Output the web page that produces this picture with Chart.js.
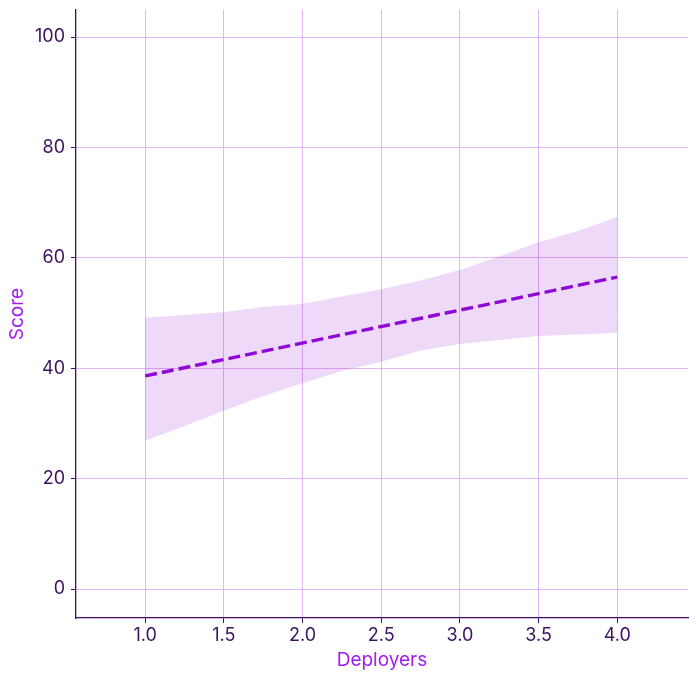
<!DOCTYPE html>
<html>
<head>
<meta charset="utf-8">
<script src="https://cdn.jsdelivr.net/npm/chart.js@4"></script>
<style>
  html, body { margin: 0; padding: 0; background: #ffffff; }
  #wrap { width: 697px; height: 679px; }
</style>
</head>
<body>
<div id="wrap"><canvas id="c" width="697" height="679"></canvas></div>
<script>
// Data
const bandX = [1.0, 1.25, 1.5, 1.75, 2.0, 2.25, 2.5, 2.75, 3.0, 3.25, 3.5, 3.75, 4.0];
const bandUpper = [49.15, 49.64, 50.18, 51.09, 51.68, 52.99, 54.29, 55.89, 57.79, 60.24, 62.81, 64.86, 67.39];
const bandLower = [26.87, 29.53, 32.30, 34.96, 37.26, 39.49, 41.18, 43.21, 44.38, 45.11, 45.83, 46.10, 46.43];
const lineX = [1.0, 4.0];
const lineY = [38.6, 56.5];
const xTicks = [1.0, 1.5, 2.0, 2.5, 3.0, 3.5, 4.0];
const xTickLabels = ["1.0", "1.5", "2.0", "2.5", "3.0", "3.5", "4.0"];
const yTicks = [0, 20, 40, 60, 80, 100];
const yTickLabels = ["0", "20", "40", "60", "80", "100"];

const toPts = (xs, ys) => xs.map((x, i) => ({ x: x, y: ys[i] }));

const gridColor = '#e3b5f5';
const axisColor = '#3d0a66';
const tickTextColor = '#3c1361';
const titleColor = '#a21cf0';
const fontFam = 'Inter, "DejaVu Sans", sans-serif';

new Chart(document.getElementById('c'), {
  type: 'line',
  data: {
    datasets: [
      {
        data: toPts(bandX, bandUpper),
        borderWidth: 0,
        borderColor: 'rgba(0,0,0,0)',
        pointRadius: 0,
        fill: '+1',
        backgroundColor: 'rgba(148,0,211,0.15)',
        tension: 0
      },
      {
        data: toPts(bandX, bandLower),
        borderWidth: 0,
        borderColor: 'rgba(0,0,0,0)',
        pointRadius: 0,
        fill: false,
        tension: 0
      },
      {
        data: toPts(lineX, lineY),
        borderColor: '#8f0bd8',
        borderWidth: 3.4,
        borderDash: [12, 5],
        pointRadius: 0,
        fill: false
      }
    ]
  },
  options: {
    responsive: false,
    animation: false,
    devicePixelRatio: 1,
    layout: { padding: { left: 0, right: 9, top: 10, bottom: 0 } },
    plugins: {
      legend: { display: false },
      tooltip: { enabled: false }
    },
    scales: {
      x: {
        type: 'linear',
        min: 0.56,
        max: 4.45,
        afterBuildTicks: (s) => { s.ticks = xTicks.map(v => ({ value: v })); },
        afterFit: (s) => { s.height = 61; s.paddingLeft = 0; s.paddingRight = 0; },
        ticks: {
          color: tickTextColor,
          font: { family: fontFam, size: 18 },
          padding: 2,
          maxRotation: 0,
          callback: (v) => { const i = xTicks.indexOf(v); return i >= 0 ? xTickLabels[i] : ''; }
        },
        grid: { color: gridColor, lineWidth: 1, tickColor: axisColor, tickLength: 5 },
        border: { display: true, color: axisColor, width: 1.3 },
        title: {
          display: true,
          text: 'Deployers',
          color: titleColor,
          font: { family: fontFam, size: 19 },
          padding: { top: 4, bottom: 7 }
        }
      },
      y: {
        type: 'linear',
        min: -5.25,
        max: 104.9,
        afterBuildTicks: (s) => { s.ticks = yTicks.map(v => ({ value: v })); },
        afterFit: (s) => { s.width = 76; s.paddingTop = 0; s.paddingBottom = 0; },
        ticks: {
          color: tickTextColor,
          font: { family: fontFam, size: 18 },
          padding: 6,
          callback: (v) => { const i = yTicks.indexOf(v); return i >= 0 ? yTickLabels[i] : ''; }
        },
        grid: { color: gridColor, lineWidth: 1, tickColor: axisColor, tickLength: 5 },
        border: { display: true, color: axisColor, width: 1.3 },
        title: {
          display: true,
          text: 'Score',
          color: titleColor,
          font: { family: fontFam, size: 19 },
          padding: { top: 6, bottom: 0 }
        }
      }
    }
  }
});
</script>
</body>
</html>
